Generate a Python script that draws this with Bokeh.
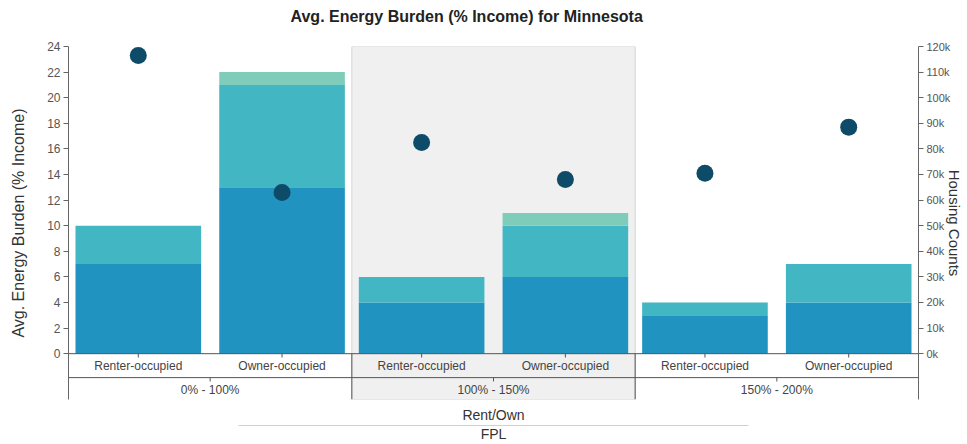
from bokeh.plotting import figure
from bokeh.models import (FactorRange, Range1d, LinearAxis, FixedTicker, Title,
                          CustomJSTickFormatter, ColumnDataSource, Span)
from bokeh.embed import file_html
from bokeh.resources import INLINE

# ---- data ----
fpl_groups = ["0% - 100%", "100% - 150%", "150% - 200%"]
tenure = ["Renter-occupied", "Owner-occupied"]
burden_base = [7, 13, 4, 6, 3, 4]
burden_mid = [3, 8, 2, 4, 1, 3]
burden_top = [0, 1, 0, 1, 0, 0]
housing_counts = [116500, 63000, 82500, 68000, 70500, 88500]
burden_ticks = list(range(0, 25, 2))
count_ticks = list(range(0, 120001, 10000))

FONT = "Liberation Sans"
colors = ["#2193c1", "#43b6c3", "#80ccba"]

FPAD = 0.03
factors = [(g, t) for g in fpl_groups for t in tenure]
x_range = FactorRange(factors=factors, factor_padding=FPAD, group_padding=0,
                      range_padding=0)
x_total = len(factors) + len(fpl_groups) * FPAD * (len(tenure) - 1)

p = figure(x_range=x_range, y_range=Range1d(-3.58, 24), width=967, height=444,
           output_backend="svg", toolbar_location=None,
           x_axis_location=None, y_axis_location=None,
           title="Avg. Energy Burden (% Income) for Minnesota",
           min_border_left=68, min_border_right=49, min_border_top=46,
           min_border_bottom=20)
p.extra_y_ranges = {"counts": Range1d(-17900, 120000)}
p.outline_line_color = None
p.background_fill_color = "white"
p.xgrid.visible = False
p.ygrid.visible = False

p.title.text_font = FONT
p.title.text_font_size = "16px"
p.title.text_font_style = "bold"
p.title.text_color = "#222222"
p.title.align = "left"
p.title.offset = 222
p.title.vertical_align = "bottom"
p.title.standoff = 0

# spacer between title and plot area
p.add_layout(Title(text=" ", text_font_size="14px", standoff=4), "above")

# shaded middle group
shade = ColumnDataSource(dict(
    left=[(fpl_groups[1], tenure[0], -0.5)],
    right=[(fpl_groups[1], tenure[1], 0.5)],
))
p.quad(left="left", right="right", bottom=-3.58, top=24, source=shade,
       fill_color="#f0f0f0", line_color="#d4d4d4", line_width=1)

# bars
src = ColumnDataSource(dict(x=factors, base=burden_base, mid=burden_mid,
                            top=burden_top, count=housing_counts))
p.vbar_stack(["base", "mid", "top"], x="x", width=0.9, color=colors,
             line_color=None, source=src)

# housing count dots
p.scatter(x="x", y="count", y_range_name="counts", size=17,
          color="#0e4b69", line_color=None, source=src)

# label rows below the bars
line_col = "#555555"
p.add_layout(Span(location=0, dimension="width", line_color=line_col, line_width=1))
p.add_layout(Span(location=-1.87, dimension="width", line_color=line_col, line_width=1))

seps = ColumnDataSource(dict(
    x=[(fpl_groups[1], tenure[0], -0.5), (fpl_groups[2], tenure[0], -0.5)],
))
p.segment(x0="x", x1="x", y0=-3.58, y1=0, source=seps, line_color=line_col, line_width=1)

p.segment(x0="x", x1="x", y0=0, y1=-0.3, source=src, line_color=line_col, line_width=1)
grp = ColumnDataSource(dict(x=fpl_groups))
p.segment(x0="x", x1="x", y0=-1.87, y1=-2.17, source=grp, line_color=line_col, line_width=1)

lab = ColumnDataSource(dict(x=factors, t=[f[1] for f in factors]))
p.text(x="x", y=-0.95, text="t", source=lab, text_align="center",
       text_baseline="middle", text_font_size="12px", text_color="#444444",
       text_font={"value": FONT})
glab = ColumnDataSource(dict(x=fpl_groups, t=fpl_groups))
p.text(x="x", y=-2.82, text="t", source=glab, text_align="center",
       text_baseline="middle", text_font_size="12px", text_color="#444444",
       text_font={"value": FONT})

def style_axis(ax):
    ax.axis_line_color = "#666666"
    ax.major_tick_line_color = "#666666"
    ax.major_tick_in = 0
    ax.major_tick_out = 5
    ax.minor_tick_line_color = None
    ax.major_label_text_font = FONT
    ax.major_label_text_font_size = "12px"
    ax.major_label_text_color = "#555555"
    ax.major_label_standoff = 3
    ax.axis_label_text_font = FONT
    ax.axis_label_text_font_size = "16px"
    ax.axis_label_text_font_style = "normal"
    ax.axis_label_text_color = "#333333"

left = LinearAxis(ticker=FixedTicker(ticks=burden_ticks),
                  axis_label="Avg. Energy Burden (% Income)")
style_axis(left)
left.axis_label_standoff = 17
p.add_layout(left, "left")

right = LinearAxis(y_range_name="counts", ticker=FixedTicker(ticks=count_ticks),
                   formatter=CustomJSTickFormatter(code="return (tick/1000).toFixed(0) + 'k';"),
                   axis_label="Housing Counts")
style_axis(right)
right.major_label_text_font_size = "11px"
right.axis_label_text_font_size = "15px"
right.axis_label_standoff = -7
p.add_layout(right, "right")

rent_ax = LinearAxis(ticker=FixedTicker(ticks=[]), axis_label="Rent/Own")
rent_ax.axis_line_color = None
rent_ax.major_tick_line_color = None
rent_ax.axis_label_text_font = FONT
rent_ax.axis_label_text_font_size = "14px"
rent_ax.axis_label_text_font_style = "normal"
rent_ax.axis_label_text_color = "#333333"
rent_ax.axis_label_standoff = 7
p.add_layout(rent_ax, "below")

fpl_ax = LinearAxis(ticker=FixedTicker(ticks=[]),
                    bounds=(0.2 * x_total, 0.8 * x_total), axis_label="FPL")
fpl_ax.axis_line_color = "#d0d0d0"
fpl_ax.major_tick_line_color = None
fpl_ax.axis_label_text_font = FONT
fpl_ax.axis_label_text_font_size = "14px"
fpl_ax.axis_label_text_font_style = "normal"
fpl_ax.axis_label_text_color = "#333333"
fpl_ax.axis_label_standoff = 0
p.add_layout(fpl_ax, "below")

open("out.html", "w").write(file_html(p, INLINE))
